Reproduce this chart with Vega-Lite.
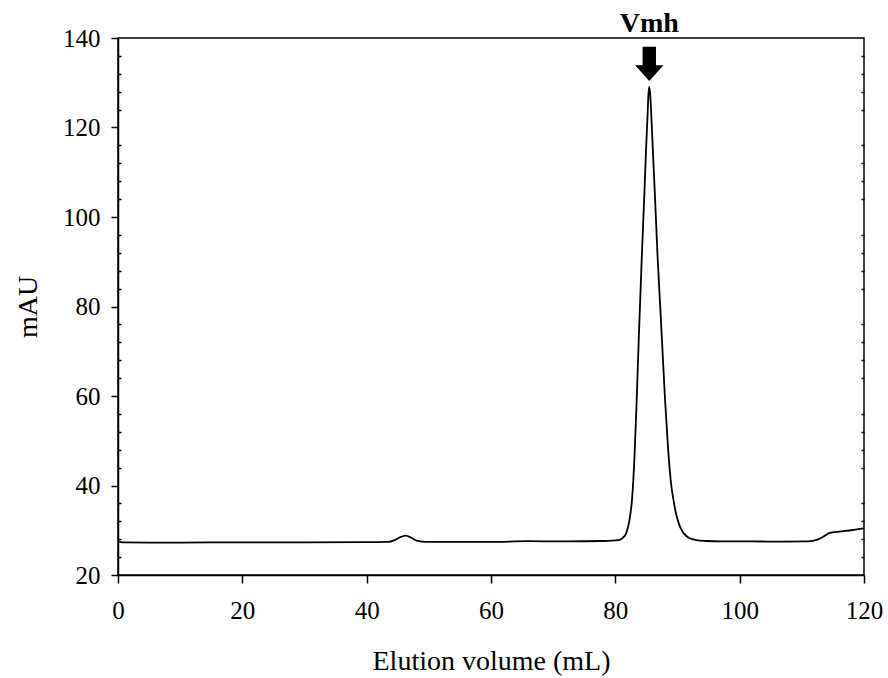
{
  "$schema": "https://vega.github.io/schema/vega-lite/v6.json",
  "width": 746,
  "height": 537,
  "autosize": {"type": "none"},
  "padding": {"left": 118, "top": 38, "right": 24, "bottom": 103},
  "background": "white",
  "config": {
    "view": {"stroke": "black", "strokeWidth": 1.5},
    "font": "Liberation Serif",
    "axis": {"grid": false, "domainColor": "black", "domainWidth": 1.5, "tickColor": "black", "tickWidth": 1.5, "labelColor": "black", "titleColor": "black", "labelFont": "Liberation Serif", "titleFont": "Liberation Serif", "labelFontSize": 25, "titleFontSize": 28, "titleFontWeight": "normal"}
  },
  "encoding": {
    "x": {"field": "volume", "type": "quantitative", "scale": {"domain": [0, 120], "nice": false, "zero": false},
      "axis": {"values": [0, 20, 40, 60, 80, 100, 120], "tickSize": 8, "labelPadding": 15, "labelFlush": false, "labelOverlap": false, "title": "Elution volume (mL)", "titlePadding": 24}}
  },
  "resolve": {"axis": {"y": "independent"}},
  "layer": [
    {
      "data": {"values": [
        {"volume": 0, "mAU": 27.5}, {"volume": 0.8, "mAU": 27.3}, {"volume": 5, "mAU": 27.25}, {"volume": 10, "mAU": 27.25},
        {"volume": 20, "mAU": 27.3}, {"volume": 30, "mAU": 27.3}, {"volume": 40, "mAU": 27.35}, {"volume": 43.5, "mAU": 27.4},
        {"volume": 44.5, "mAU": 27.8}, {"volume": 45.5, "mAU": 28.5}, {"volume": 46.3, "mAU": 28.8}, {"volume": 47.2, "mAU": 28.3},
        {"volume": 48.2, "mAU": 27.6}, {"volume": 49.5, "mAU": 27.4}, {"volume": 55, "mAU": 27.4}, {"volume": 60, "mAU": 27.4},
        {"volume": 66, "mAU": 27.55}, {"volume": 72, "mAU": 27.5}, {"volume": 78, "mAU": 27.6}, {"volume": 80.5, "mAU": 27.8},
        {"volume": 81.2, "mAU": 28.3}, {"volume": 81.7, "mAU": 29.2}, {"volume": 82.0, "mAU": 30.5}, {"volume": 82.3, "mAU": 32.5},
        {"volume": 82.68, "mAU": 36.8}, {"volume": 83.1, "mAU": 47}, {"volume": 83.43, "mAU": 59}, {"volume": 83.8, "mAU": 74},
        {"volume": 84.2, "mAU": 89}, {"volume": 84.65, "mAU": 104.5}, {"volume": 85.0, "mAU": 117}, {"volume": 85.2, "mAU": 123.2},
        {"volume": 85.33, "mAU": 127.6}, {"volume": 85.46, "mAU": 129.1}, {"volume": 85.6, "mAU": 127.6},
        {"volume": 85.77, "mAU": 123.2}, {"volume": 86.0, "mAU": 116}, {"volume": 86.38, "mAU": 104.5},
        {"volume": 86.8, "mAU": 91}, {"volume": 87.25, "mAU": 79.2}, {"volume": 87.5, "mAU": 72.5}, {"volume": 88.0, "mAU": 59.1},
        {"volume": 88.5, "mAU": 48}, {"volume": 89.0, "mAU": 40}, {"volume": 89.35, "mAU": 36.8}, {"volume": 89.8, "mAU": 33.5},
        {"volume": 90.4, "mAU": 30.8}, {"volume": 91.0, "mAU": 29.3}, {"volume": 92.0, "mAU": 28.2}, {"volume": 93.0, "mAU": 27.8},
        {"volume": 94.5, "mAU": 27.6}, {"volume": 97, "mAU": 27.5}, {"volume": 102, "mAU": 27.5}, {"volume": 107, "mAU": 27.45},
        {"volume": 111, "mAU": 27.5}, {"volume": 112.5, "mAU": 27.9}, {"volume": 113.5, "mAU": 28.6}, {"volume": 114.5, "mAU": 29.4},
        {"volume": 116, "mAU": 29.7}, {"volume": 118, "mAU": 30.0}, {"volume": 120, "mAU": 30.4}
      ]},
      "mark": {"type": "line", "color": "black", "strokeWidth": 1.8, "interpolate": "monotone"},
      "encoding": {
        "y": {"field": "mAU", "type": "quantitative", "scale": {"domain": [20, 140], "nice": false, "zero": false},
          "axis": {"orient": "left", "values": [20, 40, 60, 80, 100, 120, 140], "tickSize": 7, "labelPadding": 11, "title": "mAU", "titlePadding": 20}}
      }
    },
    {
      "data": {"values": [{"volume": 85.46, "mAU": 134.2}]},
      "mark": {"type": "point", "filled": true, "color": "black", "opacity": 1, "size": 1176,
        "shape": "M -0.39 -1 L 0.39 -1 L 0.39 0.07 L 0.825 0.07 L 0 1 L -0.825 0.07 L -0.39 0.07 Z"},
      "encoding": {
        "y": {"field": "mAU", "type": "quantitative", "scale": {"domain": [20, 140], "nice": false, "zero": false},
          "axis": {"orient": "right", "values": [24, 28, 32, 36, 44, 48, 52, 56, 64, 68, 72, 76, 84, 88, 92, 96, 104, 108, 112, 116, 124, 128, 132, 136], "tickSize": -3, "labels": false, "domain": false, "title": null}}
      }
    },
    {
      "data": {"values": [{"volume": 85.46, "mAU": 143.2, "label": "Vmh"}]},
      "mark": {"type": "text", "font": "Liberation Serif", "fontSize": 28, "fontWeight": "bold", "color": "black", "baseline": "middle", "align": "center"},
      "encoding": {
        "text": {"field": "label"},
        "y": {"field": "mAU", "type": "quantitative", "scale": {"domain": [20, 140], "nice": false, "zero": false},
          "axis": {"orient": "left", "values": [24, 28, 32, 36, 44, 48, 52, 56, 64, 68, 72, 76, 84, 88, 92, 96, 104, 108, 112, 116, 124, 128, 132, 136], "tickSize": -3, "labels": false, "domain": false, "title": null}}
      }
    }
  ]
}
